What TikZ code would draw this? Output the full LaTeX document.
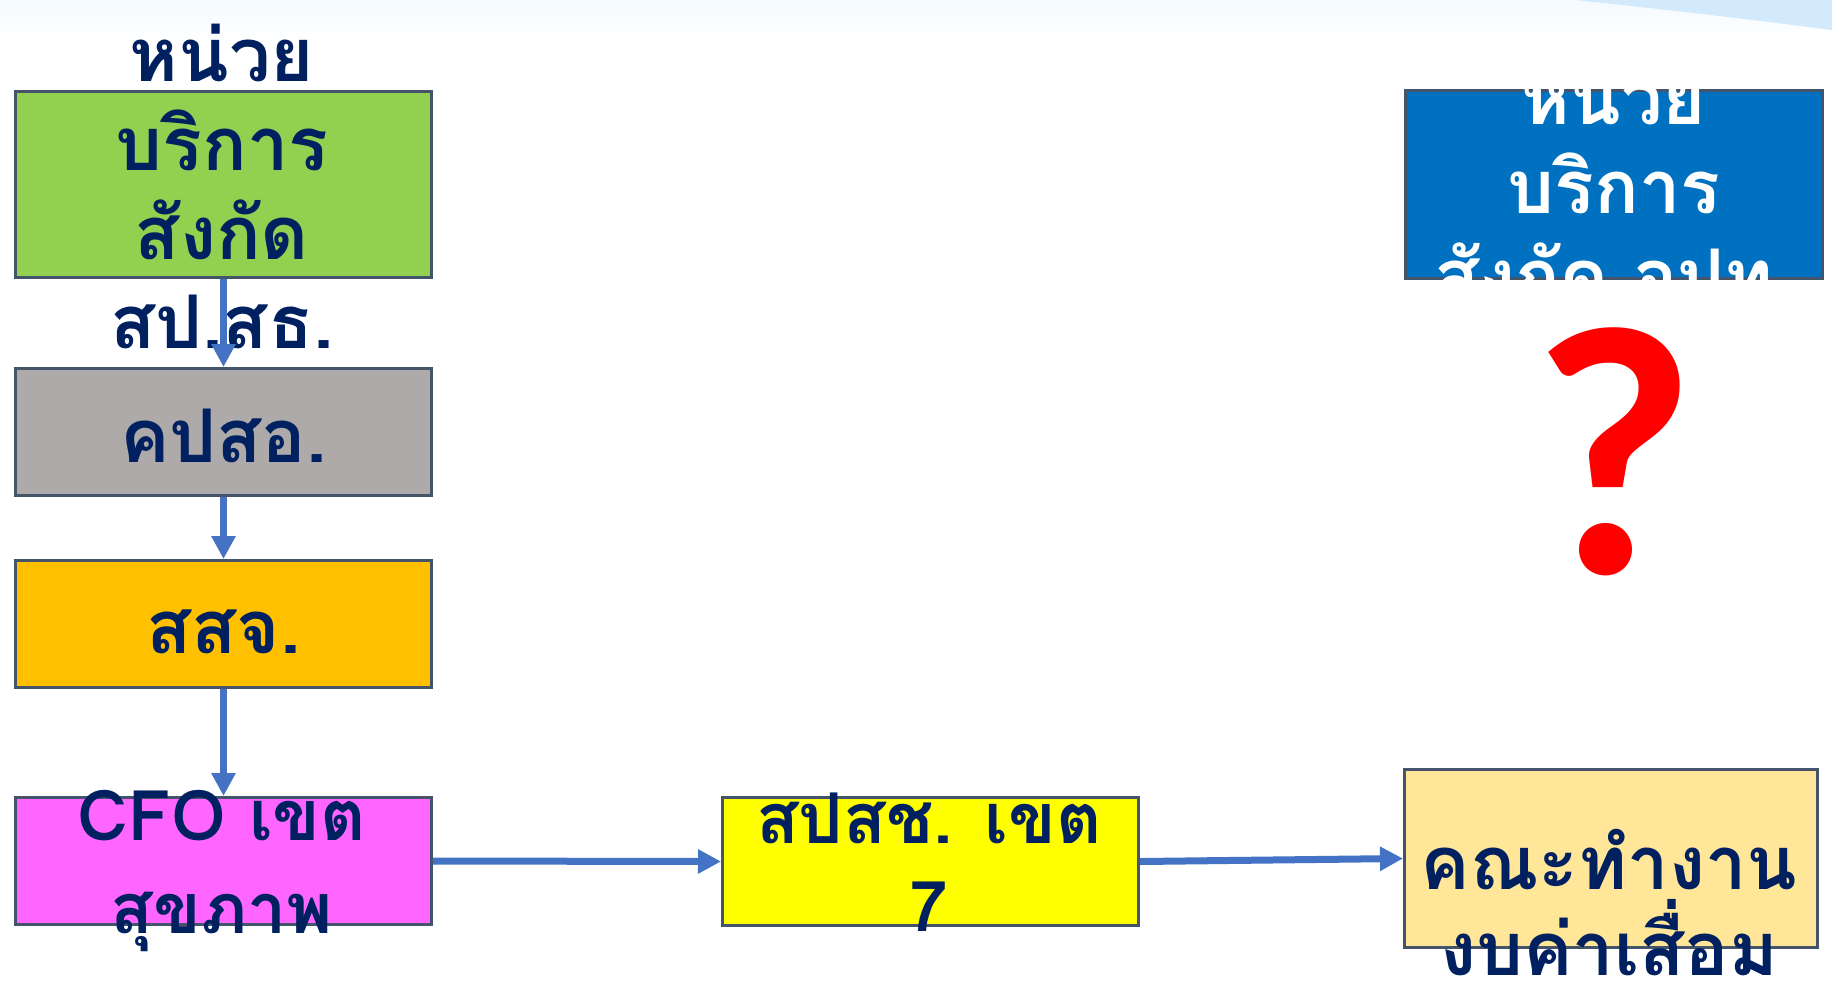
\documentclass[tikz,border=0pt]{standalone}
\usepackage{fontspec}
\newfontfamily\thaifont[Script=Thai]{Loma}
\newfontfamily\qfont{Carlito}
\usetikzlibrary{positioning}
\usetikzlibrary{arrows.meta}
\definecolor{navy}{HTML}{002060}
\definecolor{edge}{HTML}{44546A}
\definecolor{link}{HTML}{4472C4}
\definecolor{cgreen}{HTML}{92D050}
\definecolor{cgray}{HTML}{AEAAAA}
\definecolor{corange}{HTML}{FFC000}
\definecolor{cpink}{HTML}{FF66FF}
\definecolor{cyellow}{HTML}{FFFF00}
\definecolor{cbeige}{HTML}{FFE699}
\definecolor{cblue}{HTML}{0070C0}
\definecolor{swoosh}{HTML}{D2EAFB}
\newcommand\tstrut{\rule[-14pt]{0pt}{54pt}}

\begin{document}
\begin{tikzpicture}[x=0.5pt,y=-0.5pt,
 box/.style={draw=edge,line width=1.5pt,inner sep=0pt,minimum width=208pt,minimum height=63.5pt},
 txt/.style={font=\thaifont\bfseries\fontsize{37}{44.5}\selectfont,text=navy,align=center,inner sep=0pt,
  execute at begin node=\tstrut,execute at end node=\tstrut},
 flow/.style={draw=link,line width=3.5pt,-{Triangle[length=11.5pt,width=11.5pt]}}]
 \useasboundingbox (0,0) rectangle (1832,987);
 \fill[white](0,0) rectangle (1832,987);
 \shade[top color=swoosh!25,bottom color=white](0,0) rectangle (1832,40);
 \fill[swoosh](1575,0) .. controls (1690,12) and (1770,22) .. (1832,30)--(1832,0)--cycle;

 \node[box,fill=cgreen,minimum height=93pt] (srv) at (223.5,184.5) {};
 \node[box,fill=cgray] (cup) at (223.5,432) {};
 \node[box,fill=corange] (pho) at (223.5,624) {};
 \node[box,fill=cpink] (cfo) at (223.5,861) {};
 \node[box,fill=cyellow,minimum width=208pt,minimum height=64pt] (nhso) at (930.5,861.5) {};
 \node[box,fill=cbeige,minimum width=206.5pt,minimum height=89pt] (team) at (1611,858.5) {};
 \node[box,fill=cblue,minimum width=208.5pt,minimum height=94pt] (lao) at (1614,184.5) {};

 \node[txt] (srvt) at (222,200) {หน่วย\\บริการ\\สังกัด\\สป.สธ.};
 \node[txt] (cupt) at (223.5,436) {คปสอ.};
 \node[txt] (phot) at (223.5,627) {สสจ.};
 \node[txt,font=\thaifont\bfseries\fontsize{35}{46.5}\selectfont] (cfot) at (222,875.5) {CFO เขต\\สุขภาพ};
 \node[txt,font=\thaifont\bfseries\fontsize{35}{44}\selectfont] (nhsot) at (929,876) {สปสช. เขต\\7};
 \node[txt,font=\thaifont\bfseries\fontsize{37}{43}\selectfont] (teamt) at (1609,916) {คณะทำงาน\\งบค่าเสื่อม};
 \begin{scope}
  \clip (lao.south west) rectangle (lao.north east);
  \node[txt,text=white] (laot) at (1614,199) {หน่วย\\บริการ\\สังกัด อปท.};
 \end{scope}
 \node[font=\qfont\bfseries\fontsize{178}{178}\selectfont,text=red,inner sep=0pt,anchor=base] (ask) at (1614,573) {?};

 \draw[flow](srv.south)--(cup.north);
 \draw[flow](cup.south)--(pho.north);
 \draw[flow](pho.south)--(cfo.north);
 \draw[flow](cfo.east)--(nhso.west);
 \draw[flow](nhso.east)--(team.west);
\end{tikzpicture}
\end{document}
